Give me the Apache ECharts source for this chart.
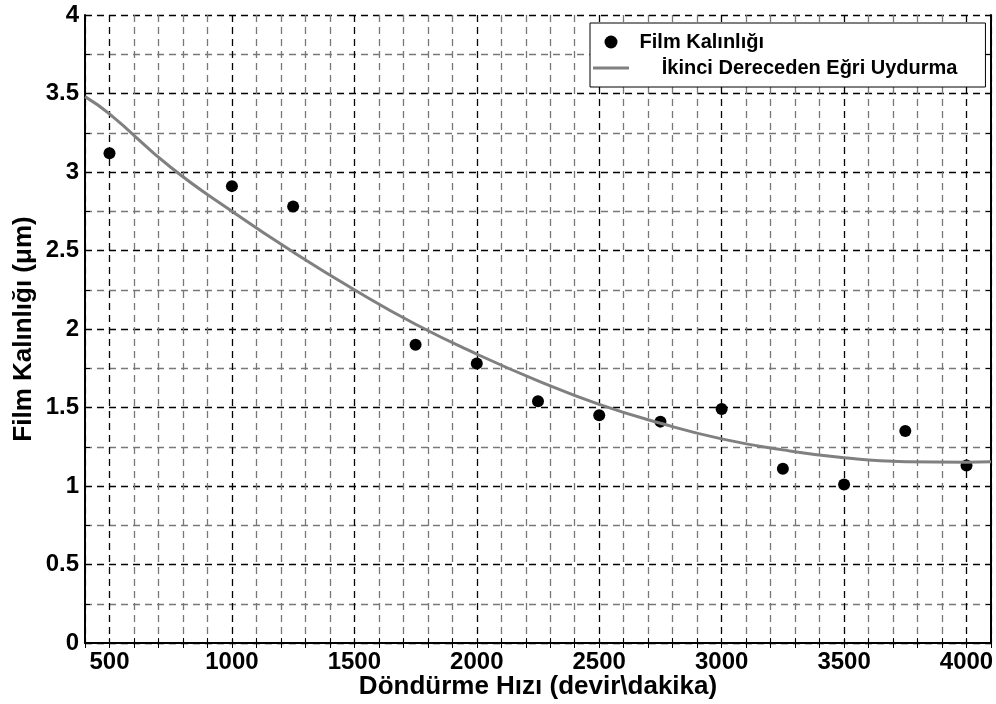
<!DOCTYPE html>
<html>
<head>
<meta charset="utf-8">
<script src="https://cdn.jsdelivr.net/npm/echarts@6/dist/echarts.min.js"></script>
<style>
html, body { margin: 0; padding: 0; background: #fff; }
#chart { width: 996px; height: 704px; }
</style>
</head>
<body>
<div id="chart"></div>
<script>
// ---- data ----
const speedRpm = [500, 1000, 1250, 1750, 2000, 2250, 2500, 2750, 3000, 3250, 3500, 3750, 4000];
const thicknessUm = [3.12, 2.91, 2.78, 1.90, 1.78, 1.54, 1.45, 1.41, 1.49, 1.11, 1.01, 1.35, 1.13];
const fitSpeed = [400, 500, 750, 1000, 1250, 1500, 1750, 2000, 2250, 2500, 2750, 3000, 3250, 3500, 3750, 4000, 4100];
const fitThickness = [3.48, 3.37, 3.03, 2.75, 2.49, 2.25, 2.03, 1.84, 1.67, 1.52, 1.40, 1.30, 1.23, 1.18, 1.155, 1.152, 1.155];
const xTickLabels = [500, 1000, 1500, 2000, 2500, 3000, 3500, 4000];
const yTickLabels = [0, 0.5, 1, 1.5, 2, 2.5, 3, 3.5, 4];
const dataName = 'Film Kalınlığı';
const fitName = 'İkinci Dereceden Eğri Uydurma';
const xTitle = 'Döndürme Hızı (devir\\dakika)';
const yTitle = 'Film Kalınlığı (μm)';

const FONT = "'Liberation Sans', Arial, Helvetica, sans-serif";
const chart = echarts.init(document.getElementById('chart'), null, { renderer: 'canvas' });

const near = (arr, v) => arr.some(t => Math.abs(t - v) < 1e-6);
const MINOR = '#777777', MAJOR = '#000';

chart.setOption({
  animation: false,
  backgroundColor: '#fff',
  grid: { left: 85, top: 15, right: 5, bottom: 61, containLabel: false, outerBoundsMode: 'none' },
  legend: {
    left: 590, top: 23,
    orient: 'vertical',
    padding: [9, 28, 9, 3],
    itemGap: 6,
    itemWidth: 36, itemHeight: 13,
    backgroundColor: '#fff', borderColor: '#000', borderWidth: 1,
    textStyle: { fontFamily: FONT, fontWeight: 'bold', fontSize: 20, color: '#000' },
    formatter: name => (name === fitName ? '     ' + name : ' ' + name),
    data: [
      { name: dataName, icon: 'circle', itemStyle: { color: '#000', opacity: 1 } },
      { name: fitName, icon: 'path://M0,0H36V3H0Z', itemStyle: { color: '#808080' } }
    ]
  },
  xAxis: [{
    type: 'value', min: 400, max: 4100, interval: 100,
    name: xTitle, nameLocation: 'middle', nameGap: 31, nameMoveOverlap: false,
    nameTextStyle: { fontFamily: FONT, fontWeight: 'bold', fontSize: 26, color: '#000' },
    axisLine: { show: true, onZero: false, lineStyle: { color: '#000', width: 2 } },
    axisTick: { show: true, inside: true, length: 5, lineStyle: { color: '#000' } },
    axisLabel: {
      margin: 7, fontFamily: FONT, fontWeight: 'bold', fontSize: 24, color: '#000',
      formatter: v => (near(xTickLabels, v) ? String(v) : '')
    },
    splitLine: { show: true, lineStyle: { color: [MINOR, MAJOR, MINOR, MINOR, MINOR], type: [7, 5], width: 1.3 } }
  }, {
    type: 'value', position: 'top', min: 400, max: 4100, interval: 100,
    axisLine: { show: false },
    axisTick: { show: true, inside: true, length: 5, lineStyle: { color: '#000' } },
    axisLabel: { show: false },
    splitLine: { show: false }
  }],
  yAxis: [{
    type: 'value', min: 0, max: 4, interval: 0.25,
    name: yTitle, nameLocation: 'middle', nameGap: 48, nameMoveOverlap: false,
    nameTextStyle: { fontFamily: FONT, fontWeight: 'bold', fontSize: 26, color: '#000' },
    axisLine: { show: true, onZero: false, lineStyle: { color: '#000', width: 2 } },
    axisTick: { show: true, inside: true, length: 5, lineStyle: { color: '#000' } },
    axisLabel: {
      margin: 6, fontFamily: FONT, fontWeight: 'bold', fontSize: 24, color: '#000',
      formatter: v => (near(yTickLabels, v) ? String(v) : '')
    },
    splitLine: { show: true, lineStyle: { color: [MAJOR, MINOR], type: [7, 5], width: 1.3 } }
  }, {
    type: 'value', position: 'right', min: 0, max: 4, interval: 0.25,
    axisLine: { show: true, onZero: false, lineStyle: { color: '#000', width: 2 } },
    axisTick: { show: true, inside: true, length: 5, lineStyle: { color: '#000' } },
    axisLabel: { show: false },
    splitLine: { show: false }
  }],
  series: [{
    name: dataName,
    type: 'scatter',
    symbol: 'circle',
    symbolSize: 12,
    itemStyle: { color: '#000', opacity: 1 },
    data: speedRpm.map((x, i) => [x, thicknessUm[i]]),
    z: 3
  }, {
    name: fitName,
    type: 'line',
    smooth: true,
    symbol: 'none',
    showSymbol: false,
    lineStyle: { color: '#808080', width: 3 },
    itemStyle: { color: '#808080' },
    data: fitSpeed.map((x, i) => [x, fitThickness[i]]),
    z: 4
  }]
});
</script>
</body>
</html>
